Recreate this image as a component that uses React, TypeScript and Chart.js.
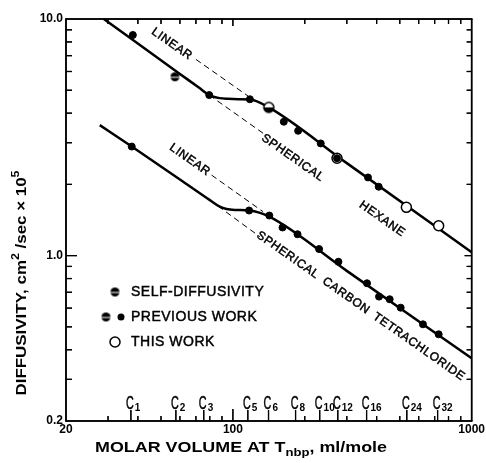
import React, { useEffect, useRef } from 'react';
import { Chart, registerables } from 'chart.js';

Chart.register(...registerables);

// ---------- axes ----------
const xMin = 20;
const xMax = 1000;
const yMin = 0.2;
const yMax = 10;
const xTickValues = [20, 100, 1000];
const xTickLabels = ['20', '100', '1000'];
const yTickValues = [0.2, 1, 10];
const yTickLabels = ['0.2', '1.0', '10.0'];
const xMinorTicks = [30, 40, 50, 60, 70, 80, 90, 200, 300, 400, 500, 600, 700, 800, 900];
const yMinorTicks = [0.3, 0.4, 0.5, 0.6, 0.7, 0.8, 0.9, 2, 3, 4, 5, 6, 7, 8, 9];

// n-alkane markers on the molar-volume axis
const carbonNumbers = ['1', '2', '3', '5', '6', '8', '10', '12', '16', '24', '32'];
const carbonVolumes = [37.4, 57.7, 75.5, 115.5, 141, 183, 231, 275, 363, 535, 720];

// ---------- hexane ----------
const hexaneCurveX = [28.8, 60, 72, 79.6, 83, 88, 95, 105, 117.8, 141.4, 300, 1000];
const hexaneCurveY = [10, 5.86, 5.13, 4.77, 4.69, 4.63, 4.6, 4.58, 4.57, 4.23, 2.46, 1.034];
const hexaneLinearX = [70.0, 115.9];
const hexaneLinearY = [6.75, 4.72];
const hexaneSphericalX = [79.6, 133.8];
const hexaneSphericalY = [4.77, 3.29];
const hexanePrevFilledX = [38.1, 79.6, 117.8, 163.4, 187.6, 233.3, 273, 368, 408];
const hexanePrevFilledY = [8.56, 4.77, 4.58, 3.68, 3.37, 2.98, 2.58, 2.14, 1.955];
const hexanePrevHalfX = [57.2];
const hexanePrevHalfY = [5.7];
const hexaneSelfX = [141.4];
const hexaneSelfY = [4.23];
const hexaneThisWorkX = [273, 532.8, 727.6];
const hexaneThisWorkY = [2.58, 1.6, 1.338];

// ---------- carbon tetrachloride ----------
const ccl4CurveX = [27.7, 37.7, 60, 80.1, 88.1, 94, 102, 116.9, 142.1, 300, 1000];
const ccl4CurveY = [3.56, 2.89, 2.098, 1.716, 1.61, 1.574, 1.56, 1.551, 1.46, 0.862, 0.368];
const ccl4LinearX = [81.4, 133.8];
const ccl4LinearY = [2.19, 1.533];
const ccl4SphericalX = [80.1, 129.7];
const ccl4SphericalY = [1.716, 1.202];
const ccl4PrevFilledX = [37.7, 116.9, 142.1, 161.4, 186.5, 229.6, 276.7, 364.6, 409.3, 453.6, 504.4, 625.2, 727.6];
const ccl4PrevFilledY = [2.89, 1.551, 1.477, 1.315, 1.231, 1.066, 0.942, 0.764, 0.671, 0.654, 0.6025, 0.5125, 0.465];

// ---------- in-plot annotations (anchored in data space) ----------
const annotationTexts = ['LINEAR', 'LINEAR', 'SPHERICAL', 'HEXANE', 'SPHERICAL CARBON TETRACHLORIDE'];
const annotationX = [55.5, 66.0, 178.2, 422, 343];
const annotationY = [7.84, 2.54, 2.59, 1.428, 0.612];

// ---------- legend ----------
const legendLabels = ['SELF-DIFFUSIVITY', 'PREVIOUS WORK', 'THIS WORK'];

const FONT = '"Liberation Sans", Arial, sans-serif';

const pts = (xs: number[], ys: number[]) => xs.map((x, i) => ({ x, y: ys[i] }));

function makeStripedDisc(r: number) {
  const size = Math.ceil(2 * r + 2);
  const c = document.createElement('canvas');
  c.width = size;
  c.height = size;
  const g = c.getContext('2d')!;
  const cx = size / 2;
  g.fillStyle = '#000';
  g.beginPath();
  g.arc(cx, cx, r, 0, Math.PI * 2);
  g.fill();
  g.fillStyle = '#fff';
  g.fillRect(cx - r, cx, 2 * r, 1);
  return c;
}

function makeHalfRing(r: number) {
  const size = Math.ceil(2 * r + 4);
  const c = document.createElement('canvas');
  c.width = size;
  c.height = size;
  const g = c.getContext('2d')!;
  const cx = size / 2;
  g.fillStyle = '#000';
  g.beginPath();
  g.arc(cx, cx, r + 0.75, 0, Math.PI * 2);
  g.fill();
  g.fillStyle = '#fff';
  g.beginPath();
  g.arc(cx, cx, r - 0.75, Math.PI, Math.PI * 2);
  g.closePath();
  g.fill();
  return c;
}

// frame, inward ticks and carbon-number ticks, placed through the chart's scales
function drawFrame(chart: any) {
  const { ctx, chartArea: a, scales } = chart;
  const xs = scales.x;
  const ys = scales.y;
  ctx.save();
  ctx.setLineDash([]);
  ctx.globalAlpha = 1;
  ctx.globalCompositeOperation = 'source-over';
  ctx.fillStyle = '#000';
  const vbar = (x: number, y1: number, y2: number, w: number) => {
    ctx.fillRect(x - w / 2, Math.min(y1, y2), w, Math.abs(y2 - y1));
  };
  const hbar = (y: number, x1: number, x2: number, w: number) => {
    ctx.fillRect(Math.min(x1, x2), y - w / 2, Math.abs(x2 - x1), w);
  };
  const bw = 1.5;
  hbar(a.top, a.left - bw / 2, a.right + bw / 2, bw);
  hbar(a.bottom, a.left - bw / 2, a.right + bw / 2, bw);
  vbar(a.left, a.top, a.bottom, bw);
  vbar(a.right, a.top, a.bottom, bw);
  xMinorTicks.forEach((v) => {
    const x = xs.getPixelForValue(v);
    vbar(x, a.bottom, a.bottom - 5, 1.2);
    vbar(x, a.top, a.top + 5, 1.2);
  });
  xTickValues.forEach((v) => {
    if (v > xMin && v < xMax) {
      const x = xs.getPixelForValue(v);
      vbar(x, a.bottom, a.bottom - 12, 1.2);
      vbar(x, a.top, a.top + 7, 1.2);
    }
  });
  yMinorTicks.forEach((v) => {
    const y = ys.getPixelForValue(v);
    hbar(y, a.left, a.left + 6, 1.2);
    hbar(y, a.right, a.right - 5, 1.2);
  });
  yTickValues.forEach((v) => {
    if (v > yMin && v < yMax) {
      const y = ys.getPixelForValue(v);
      hbar(y, a.left, a.left + 11, 1.2);
      hbar(y, a.right, a.right - 7, 1.2);
    }
  });
  carbonVolumes.forEach((v) => {
    const x = xs.getPixelForValue(v);
    vbar(x, a.bottom, a.bottom - 11, 1.2);
  });
  ctx.restore();
}

export default function App() {
  const ref = useRef<HTMLCanvasElement>(null);

  useEffect(() => {
    const canvas = ref.current;
    if (!canvas) return;
    const stripedDisc = makeStripedDisc(4.5);
    const halfRing = makeHalfRing(5);

    const drawMarker = (ctx: CanvasRenderingContext2D, kind: string, x: number, y: number) => {
      if (kind === 'filled') {
        ctx.fillStyle = '#000';
        ctx.beginPath();
        ctx.arc(x, y, 3.5, 0, Math.PI * 2);
        ctx.fill();
      } else if (kind === 'striped') {
        ctx.drawImage(stripedDisc, x - stripedDisc.width / 2, y - stripedDisc.height / 2);
      } else if (kind === 'open') {
        ctx.fillStyle = '#000';
        ctx.beginPath();
        ctx.arc(x, y, 5.75, 0, Math.PI * 2);
        ctx.fill();
        ctx.fillStyle = '#fff';
        ctx.beginPath();
        ctx.arc(x, y, 4.25, 0, Math.PI * 2);
        ctx.fill();
      }
    };

    const heavyText = (ctx: CanvasRenderingContext2D, t: string, x: number, y: number) => {
      ctx.fillText(t, x, y);
      ctx.strokeStyle = '#000';
      ctx.lineWidth = 0.45;
      ctx.strokeText(t, x, y);
    };

    const decor = {
      id: 'decor',
      afterDatasetsDraw(chart: any) {
        drawFrame(chart);
      },
      afterDraw(chart: any) {
        const { ctx, chartArea: a, scales } = chart;
        const xs = scales.x;
        const ys = scales.y;
        ctx.save();
        ctx.fillStyle = '#000';

        // carbon-number labels
        carbonVolumes.forEach((v, i) => {
          const x = xs.getPixelForValue(v);
          ctx.save();
          ctx.font = `18px ${FONT}`;
          ctx.textAlign = 'center';
          ctx.textBaseline = 'alphabetic';
          const cw = ctx.measureText('C').width * 0.6;
          ctx.translate(x - 1, a.bottom - 12);
          ctx.scale(0.6, 1);
          heavyText(ctx, 'C', 0, 0);
          ctx.restore();
          ctx.font = `bold 10px ${FONT}`;
          ctx.textAlign = 'left';
          ctx.textBaseline = 'alphabetic';
          ctx.fillText(carbonNumbers[i], x - 1 + cw / 2 + 1, a.bottom - 10);
        });

        // annotations along the lines
        annotationTexts.forEach((t, i) => {
          const x = xs.getPixelForValue(annotationX[i]);
          const y = ys.getPixelForValue(annotationY[i]);
          ctx.save();
          ctx.translate(x, y);
          ctx.rotate((35 * Math.PI) / 180);
          ctx.font = `12px ${FONT}`;
          (ctx as any).letterSpacing = '0.6px';
          (ctx as any).wordSpacing = '3px';
          ctx.textAlign = 'center';
          ctx.textBaseline = 'middle';
          heavyText(ctx, t, 0, 0);
          ctx.restore();
        });

        // legend
        const lx = a.left + 49;
        const legendY = [292, 317, 342];
        drawMarker(ctx, 'striped', lx, legendY[0]);
        drawMarker(ctx, 'striped', lx - 9, legendY[1]);
        drawMarker(ctx, 'filled', lx + 6, legendY[1]);
        drawMarker(ctx, 'open', lx, legendY[2]);
        ctx.save();
        ctx.fillStyle = '#000';
        ctx.font = `14px ${FONT}`;
        (ctx as any).letterSpacing = '0.5px';
        ctx.textAlign = 'left';
        ctx.textBaseline = 'middle';
        legendLabels.forEach((t, i) => heavyText(ctx, t, lx + 16, legendY[i]));
        ctx.restore();

        // axis titles with sub/superscripts
        const drawParts = (parts: { t: string; k: string }[], big: number, small: number, target: number) => {
          const fontOf = (k: string) => `bold ${k === 'n' ? big : small}px ${FONT}`;
          let w = 0;
          parts.forEach((p) => {
            ctx.font = fontOf(p.k);
            w += ctx.measureText(p.t).width;
          });
          const sx = target / w;
          ctx.scale(sx, 1);
          let cx = -w / 2;
          parts.forEach((p) => {
            ctx.font = fontOf(p.k);
            const dy = p.k === 'sub' ? 5 : p.k === 'sup' ? -6 : 0;
            ctx.fillText(p.t, cx, dy);
            cx += ctx.measureText(p.t).width;
          });
        };
        ctx.fillStyle = '#000';
        ctx.save();
        ctx.textAlign = 'left';
        ctx.textBaseline = 'middle';
        ctx.translate(241, 448);
        drawParts(
          [
            { t: 'MOLAR VOLUME AT T', k: 'n' },
            { t: 'nbp', k: 'sub' },
            { t: ', ml/mole', k: 'n' },
          ],
          15,
          11,
          292
        );
        ctx.restore();

        ctx.save();
        ctx.textAlign = 'left';
        ctx.textBaseline = 'middle';
        ctx.translate(22, 283);
        ctx.rotate(-Math.PI / 2);
        drawParts(
          [
            { t: 'DIFFUSIVITY, cm', k: 'n' },
            { t: '2', k: 'sup' },
            { t: ' /sec \u00d7 10', k: 'n' },
            { t: '5', k: 'sup' },
          ],
          15,
          11,
          225
        );
        ctx.restore();
        ctx.restore();

        // frame and ticks on top of everything
        drawFrame(chart);
      },
    };

    const curve = (xs: number[], ys: number[]) => ({
      data: pts(xs, ys),
      showLine: true,
      borderColor: '#000',
      borderWidth: 2.5,
      pointRadius: 0,
      cubicInterpolationMode: 'monotone',
      order: 3,
    });
    const dashed = (xs: number[], ys: number[]) => ({
      data: pts(xs, ys),
      showLine: true,
      borderColor: '#000',
      borderWidth: 1,
      borderDash: [6, 4],
      pointRadius: 0,
      order: 4,
    });

    const chart = new Chart(canvas, {
      type: 'scatter',
      data: {
        datasets: [
          curve(hexaneCurveX, hexaneCurveY),
          curve(ccl4CurveX, ccl4CurveY),
          dashed(hexaneLinearX, hexaneLinearY),
          dashed(hexaneSphericalX, hexaneSphericalY),
          dashed(ccl4LinearX, ccl4LinearY),
          dashed(ccl4SphericalX, ccl4SphericalY),
          {
            data: pts(hexaneThisWorkX, hexaneThisWorkY),
            pointStyle: 'circle',
            pointRadius: 5,
            backgroundColor: '#fff',
            borderColor: '#000',
            borderWidth: 1.5,
            order: 2,
          },
          {
            data: pts(hexaneSelfX, hexaneSelfY),
            pointStyle: halfRing,
            order: 1,
          },
          {
            data: pts(hexanePrevHalfX, hexanePrevHalfY),
            pointStyle: stripedDisc,
            order: 1,
          },
          {
            data: pts(hexanePrevFilledX, hexanePrevFilledY),
            pointStyle: 'circle',
            pointRadius: 3.5,
            backgroundColor: '#000',
            borderColor: '#000',
            borderWidth: 1,
            order: 0,
          },
          {
            data: pts(ccl4PrevFilledX, ccl4PrevFilledY),
            pointStyle: 'circle',
            pointRadius: 3.5,
            backgroundColor: '#000',
            borderColor: '#000',
            borderWidth: 1,
            order: 0,
          },
        ] as any,
      },
      options: {
        animation: false,
        responsive: false,
        devicePixelRatio: 1,
        layout: { padding: { left: 0, top: 19, right: 14, bottom: 0 } },
        plugins: { legend: { display: false }, tooltip: { enabled: false }, title: { display: false } },
        scales: {
          x: {
            type: 'logarithmic',
            min: xMin,
            max: xMax,
            afterBuildTicks: (s: any) => {
              s.ticks = xTickValues.map((v) => ({ value: v }));
            },
            afterFit: (s: any) => {
              s.height = 42;
            },
            ticks: {
              autoSkip: false,
              maxRotation: 0,
              padding: 1,
              color: '#000',
              font: { family: FONT, size: 12, weight: 'bold' },
              callback: (v: any) => {
                const i = xTickValues.indexOf(Number(v));
                return i >= 0 ? xTickLabels[i] : '';
              },
            },
            grid: { display: false, drawTicks: false, tickLength: 0 },
            border: { display: false },
          },
          y: {
            type: 'logarithmic',
            min: yMin,
            max: yMax,
            afterBuildTicks: (s: any) => {
              s.ticks = yTickValues.map((v) => ({ value: v }));
            },
            afterFit: (s: any) => {
              s.width = 66;
            },
            ticks: {
              autoSkip: false,
              padding: 3,
              color: '#000',
              font: { family: FONT, size: 12, weight: 'bold' },
              callback: (v: any) => {
                const i = yTickValues.indexOf(Number(v));
                return i >= 0 ? yTickLabels[i] : '';
              },
            },
            grid: { display: false, drawTicks: false, tickLength: 0 },
            border: { display: false },
          },
        },
      } as any,
      plugins: [decor],
    });
    return () => chart.destroy();
  }, []);

  return (
    <div style={{ position: 'fixed', left: 0, top: 0, width: 486, height: 463, background: '#fff' }}>
      <canvas ref={ref} width={486} height={463} style={{ display: 'block', width: 486, height: 463 }} />
    </div>
  );
}
